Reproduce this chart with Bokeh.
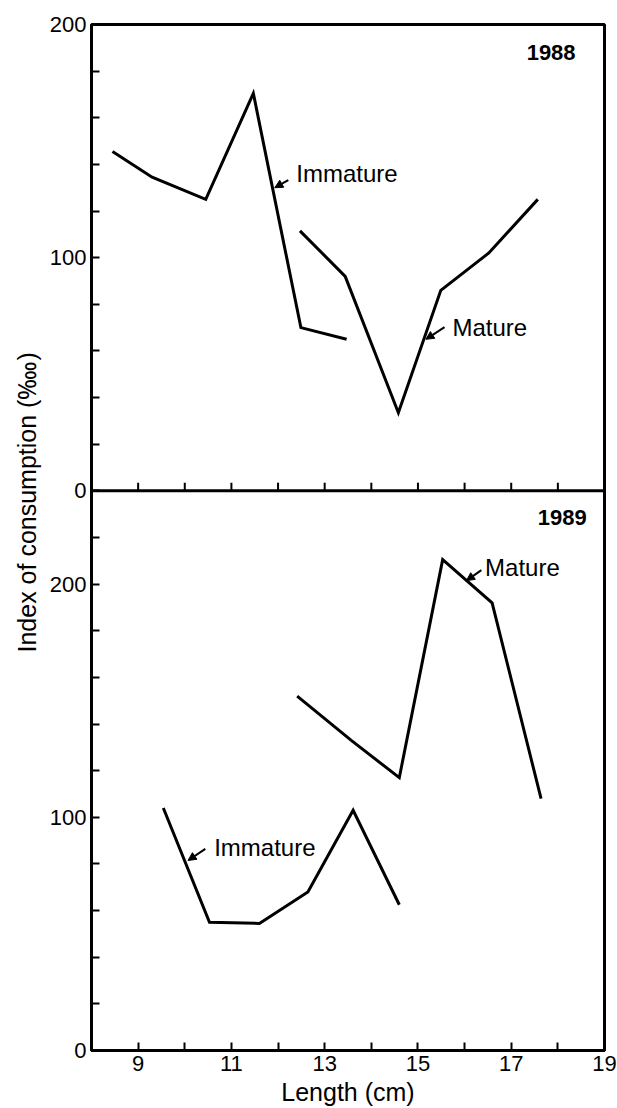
import math
from bokeh.plotting import figure
from bokeh.models import Range1d, FixedTicker, Span, Title, Arrow, NormalHead
from bokeh.core.properties import value
from bokeh.embed import file_html
from bokeh.resources import INLINE

# ---- data ----
# 1988 panel
imm88_len = [8.45, 9.3, 10.45, 11.47, 12.49, 13.47]
imm88_idx = [145.5, 134.5, 125.0, 170.5, 70.0, 65.0]
mat88_len = [12.47, 13.44, 14.58, 15.49, 16.52, 17.57]
mat88_idx = [111.5, 92.0, 33.5, 86.0, 102.0, 125.0]
# 1989 panel
imm89_len = [9.54, 10.53, 11.6, 12.64, 13.61, 14.6]
imm89_idx = [104.0, 55.0, 54.5, 68.0, 103.0, 62.5]
mat89_len = [12.41, 13.57, 14.6, 15.53, 16.59, 17.64]
mat89_idx = [152.0, 133.0, 117.0, 210.5, 192.0, 108.0]

x_major = [9, 11, 13, 15, 17, 19]
x_minor = [10, 12, 14, 16, 18]
x_min, x_max = 8, 19
top_max = 200      # 1988 panel y extent
bot_max = 240      # 1989 panel y extent
y_step = 20
y_labelled = [0, 100, 200]

FONT = "Liberation Sans"

p = figure(width=617, height=1108, output_backend="svg", toolbar_location=None,
           x_range=Range1d(x_min, x_max), y_range=Range1d(0, bot_max + top_max),
           min_border_left=91, min_border_right=13, min_border_top=24,
           min_border_bottom=10)
p.extra_y_ranges = {"top": Range1d(-bot_max, top_max)}
p.grid.visible = False
p.outline_line_color = "black"
p.outline_line_width = 3
p.outline_line_alpha = 1.0
p.background_fill_color = "white"
p.border_fill_color = "white"

# y axis ticks: bottom panel 0..220, top panel offset by bot_max
bot_ticks = list(range(0, bot_max, y_step))
top_ticks = [bot_max + t for t in range(0, top_max + 1, y_step)]
major = [t for t in bot_ticks if t in y_labelled] + [t for t in top_ticks if (t - bot_max) in y_labelled]
minor = [t for t in bot_ticks + top_ticks if t not in major]
overrides = {t: str(t) for t in bot_ticks if t in y_labelled}
overrides.update({t: str(t - bot_max) for t in top_ticks if (t - bot_max) in y_labelled})

ya = p.yaxis[0]
ya.ticker = FixedTicker(ticks=major, minor_ticks=minor)
ya.major_label_overrides = overrides
xa = p.xaxis[0]
xa.ticker = FixedTicker(ticks=x_major, minor_ticks=x_minor)
xa.axis_label = "Length (cm)"

for ax in (xa, ya):
    ax.axis_line_width = 3
    ax.axis_line_color = "black"
    ax.major_tick_in = 8
    ax.major_tick_out = 0
    ax.minor_tick_in = 8
    ax.minor_tick_out = 0
    ax.major_tick_line_width = 2
    ax.minor_tick_line_width = 2
    ax.major_label_text_font = FONT
    ax.major_label_text_font_size = "22px"
    ax.major_label_text_color = "black"
    ax.axis_label_text_font = FONT
    ax.axis_label_text_font_size = "25px"
    ax.axis_label_text_font_style = "normal"
    ax.axis_label_text_color = "black"
ya.major_label_standoff = 5
xa.major_label_standoff = 5
xa.axis_label_standoff = 4

# separator between panels + its upward ticks
p.add_layout(Span(location=bot_max, dimension="width", line_color="black", line_width=3))
sep_ticks = sorted(x_major + x_minor)
p.segment(x0=sep_ticks, y0=[bot_max] * len(sep_ticks), x1=sep_ticks,
          y1=[bot_max + 3.5] * len(sep_ticks), line_color="black", line_width=2)

# lines
lw = 3
p.line(imm88_len, imm88_idx, y_range_name="top", line_color="black", line_width=lw, line_join="miter")
p.line(mat88_len, mat88_idx, y_range_name="top", line_color="black", line_width=lw, line_join="miter")
p.line(imm89_len, imm89_idx, line_color="black", line_width=lw, line_join="miter")
p.line(mat89_len, mat89_idx, line_color="black", line_width=lw, line_join="miter")

# annotations
def note(x, y, txt, ax0, ay0, ax1, ay1, rng="default"):
    p.text(x=[x], y=[y], text=[txt], y_range_name=rng, text_font=value(FONT),
           text_font_size="24px", text_baseline="middle", text_align="left",
           text_color="black")
    p.add_layout(Arrow(x_start=ax0, y_start=ay0, x_end=ax1, y_end=ay1, y_range_name=rng,
                       line_width=2, line_color="black",
                       end=NormalHead(size=8, fill_color="black", line_color="black")))

note(12.39, 136.0, "Immature", 12.22, 133.3, 11.93, 130.0, "top")
note(15.74, 70.0, "Mature", 15.57, 70.2, 15.17, 65.0, "top")
note(16.44, 207.0, "Mature", 16.36, 206.0, 16.04, 201.5)
note(10.63, 87.0, "Immature", 10.44, 86.5, 10.07, 81.5)

p.text(x=[18.38], y=[188.0], text=["1988"], y_range_name="top", text_font=value(FONT),
       text_font_size="22px", text_font_style="bold", text_align="right",
       text_baseline="middle", text_color="black")
p.text(x=[18.62], y=[228.5], text=["1989"], text_font=value(FONT),
       text_font_size="22px", text_font_style="bold", text_align="right",
       text_baseline="middle", text_color="black")

# y-axis title spanning both panels (placed as in the original, above centre)
p.add_layout(Title(text="Index of consumption (‱)", align="left", offset=398,
                   text_font=FONT, text_font_size="25px", text_font_style="normal",
                   text_color="black", standoff=12), "left")

open("out.html", "w").write(file_html(p, INLINE))
